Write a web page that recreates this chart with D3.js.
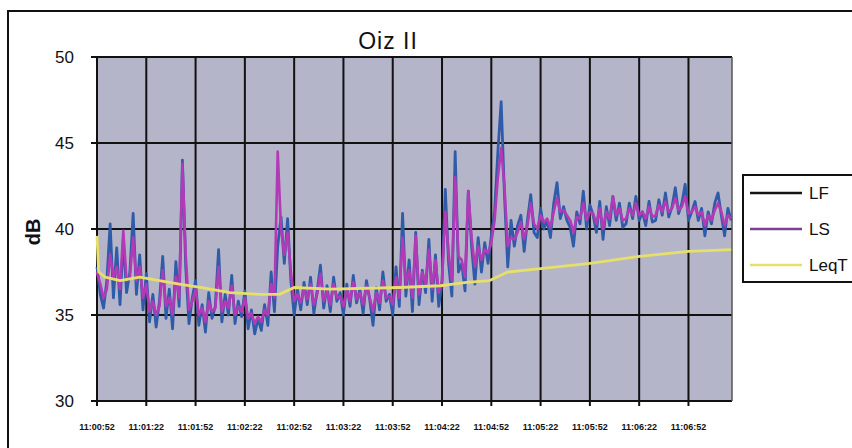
<!DOCTYPE html>
<html>
<head>
<meta charset="utf-8">
<script src="https://cdn.jsdelivr.net/npm/d3@7"></script>
<style>
  html, body { margin: 0; padding: 0; background: #fff; }
  svg { display: block; font-family: "Liberation Sans", Arial, sans-serif; }
</style>
</head>
<body>
<svg id="chart" width="852" height="448"></svg>
<script>
// Sound level record, one sample every 2 s starting at 11:00:52
const sampleStep = 2; // seconds between samples
const tickLabels = ["11:00:52", "11:01:22", "11:01:52", "11:02:22", "11:02:52", "11:03:22",
  "11:03:52", "11:04:22", "11:04:52", "11:05:22", "11:05:52", "11:06:22", "11:06:52"];
const yTicks = [30, 35, 40, 45, 50];

// LF (fast) level, dB
const LF = [
  37.8, 36.2, 35.4, 37.0, 40.3, 36.0, 38.9, 35.6, 39.4, 36.3,
  37.5, 40.9, 36.2, 38.5, 35.3, 37.4, 34.6, 36.2, 34.3, 35.8,
  38.4, 34.8, 36.5, 34.2, 38.1, 35.5, 44.0, 37.8, 34.5, 36.0,
  37.0, 34.4, 35.6, 34.0, 36.3, 34.8, 35.5, 38.8, 34.6, 36.2,
  35.0, 37.3, 34.5, 35.8, 34.9, 36.4, 34.2, 35.3, 33.9, 34.8,
  34.1, 35.6, 34.4, 37.5, 35.2, 39.0, 40.7, 38.0, 40.6, 37.0,
  35.0, 36.5, 35.3, 36.9, 35.6, 37.2, 35.1, 36.4, 37.9, 35.4,
  36.7, 35.2, 37.2, 35.8, 36.3, 35.0, 36.8, 35.5, 37.3, 35.7,
  36.5, 35.1, 37.0, 35.9, 34.4, 36.6, 35.3, 37.5, 35.8, 36.2,
  35.0, 37.8, 35.5, 40.9, 36.1, 38.2, 35.2, 39.8, 35.6, 37.6,
  36.3, 39.4, 35.8, 38.5, 35.5, 36.9, 42.3, 38.0, 36.1, 44.5,
  37.5, 38.0, 36.4, 42.2, 39.0, 36.8, 39.5, 37.5, 39.2, 38.0,
  39.6, 41.0, 44.5, 47.4, 42.0, 37.8, 40.5, 39.0, 40.2, 40.8,
  38.7, 40.5, 42.0, 39.8, 39.5, 41.2, 40.0, 40.5, 39.5, 41.5,
  42.7, 40.6, 41.3, 40.5, 40.1, 39.0, 41.0, 40.3, 42.2, 40.0,
  41.4, 40.8, 39.8, 41.6, 39.4, 41.3, 40.2, 41.9, 40.5, 41.5,
  40.1, 40.3, 41.5, 40.6, 41.9, 40.5, 41.0, 40.2, 41.6, 40.4,
  40.5, 41.7, 40.8, 42.1, 40.7, 41.3, 42.4, 40.9, 41.5, 42.6,
  40.5, 41.0, 41.6, 40.5, 41.2, 39.6, 41.0, 40.3, 41.5, 42.1,
  40.8, 39.6, 41.2, 40.5
];

// LS (slow) level, dB
const LS = [
  37.5, 36.8, 36.0, 36.5, 38.5, 37.2, 37.8, 36.5, 39.9, 37.0,
  37.2, 39.5, 37.0, 37.8, 36.0, 36.8, 35.2, 35.8, 35.0, 35.5,
  37.6, 35.5, 36.0, 35.0, 37.2, 36.0, 43.8, 38.5, 35.3, 35.8,
  36.5, 35.0, 35.4, 34.6, 35.8, 35.2, 35.4, 37.8, 35.2, 35.8,
  35.4, 36.7, 35.0, 35.5, 35.2, 36.0, 34.8, 35.1, 34.5, 34.9,
  34.6, 35.3, 35.0, 36.8, 36.0, 44.5, 40.0, 38.5, 39.8, 37.5,
  35.8, 36.2, 35.7, 36.5, 35.9, 36.8, 35.6, 36.2, 37.4, 35.8,
  36.4, 35.6, 36.8, 36.0, 36.1, 35.5, 36.5, 35.8, 36.9, 35.9,
  36.3, 35.6, 36.7, 36.0, 35.2, 36.3, 35.7, 37.0, 36.0, 36.1,
  35.6, 37.2, 36.0, 39.5, 36.8, 37.6, 36.0, 39.6, 36.2, 37.5,
  36.8, 38.8, 36.5, 38.2, 36.3, 37.0, 41.0, 38.6, 37.0, 43.0,
  38.4, 38.2, 37.2, 42.2, 39.5, 37.8, 39.0, 38.2, 38.8, 38.6,
  39.2, 40.5, 43.0, 44.7, 42.5, 39.0, 39.5, 39.4, 39.8, 40.4,
  39.4, 40.2, 41.5, 40.3, 40.0, 40.8, 40.4, 40.6, 40.1, 41.0,
  41.8, 41.0, 41.1, 40.8, 40.5, 39.8, 40.7, 40.6, 41.5, 40.5,
  41.0, 40.9, 40.3, 41.2, 40.0, 41.0, 40.6, 41.9, 40.8, 41.2,
  40.5, 40.6, 41.2, 40.8, 41.5, 40.8, 41.0, 40.6, 41.3, 40.7,
  40.8, 41.4, 41.0, 41.6, 41.0, 41.2, 41.8, 41.1, 41.3, 41.9,
  40.9, 41.0, 41.3, 40.8, 41.0, 40.2, 40.8, 40.5, 41.1, 41.5,
  41.0, 40.2, 40.8, 40.6
];

// Running Leq, dB, at the listed elapsed times (s)
const leqTimes = [0, 1, 5, 14, 26, 38, 50, 63, 81, 99, 111, 120, 142, 184, 209, 225, 239, 250, 270, 300, 329, 360, 386];
const leqValues = [39.6, 37.5, 37.2, 37.0, 37.2, 37.0, 36.8, 36.6, 36.3, 36.2, 36.2, 36.6, 36.5, 36.6, 36.7, 36.9, 37.0, 37.5, 37.7, 38.0, 38.4, 38.7, 38.8];

const colors = { LF: "#2f5ba8", LS: "#b23ab6", LeqT: "#e6df6a" };

const svg = d3.select("#chart");

// outer chart frame
svg.append("rect").attr("x", 8).attr("y", 11).attr("width", 870).attr("height", 470)
  .attr("fill", "#fff").attr("stroke", "#111").attr("stroke-width", 2);

const plot = { left: 96, top: 57, right: 732, bottom: 401 };
const tickSpacing = 30; // seconds between labelled ticks
const tEnd = (LF.length - 1) * sampleStep + 0.5;

const x = d3.scaleLinear().domain([0, tEnd]).range([97, plot.right]);
const y = d3.scaleLinear().domain([30, 50]).range([plot.bottom, plot.top]);

// plot area
svg.append("rect")
  .attr("x", plot.left).attr("y", plot.top)
  .attr("width", plot.right - plot.left).attr("height", plot.bottom - plot.top)
  .attr("fill", "#b5b5c9");

const tickTimes = tickLabels.map((_, i) => i * tickSpacing);

// grid
const g = svg.append("g");
g.selectAll("line.v").data(tickTimes).join("line")
  .attr("x1", d => x(d)).attr("x2", d => x(d))
  .attr("y1", plot.top).attr("y2", plot.bottom + 5)
  .attr("stroke", "#111").attr("stroke-width", 2);
g.selectAll("line.h").data(yTicks).join("line")
  .attr("x1", plot.left - 5).attr("x2", plot.right)
  .attr("y1", d => y(d)).attr("y2", d => y(d))
  .attr("stroke", "#111").attr("stroke-width", 2);
// right edge of plot
g.append("line").attr("x1", plot.right).attr("x2", plot.right)
  .attr("y1", plot.top).attr("y2", plot.bottom)
  .attr("stroke", "#555").attr("stroke-width", 1.5);

// series
const line = d3.line().x((d, i) => x(i * sampleStep)).y(d => y(d));
svg.append("path").datum(LF).attr("d", line)
  .attr("fill", "none").attr("stroke", colors.LF).attr("stroke-width", 2.8).attr("stroke-linejoin", "round");
svg.append("path").datum(LS).attr("d", line)
  .attr("fill", "none").attr("stroke", colors.LS).attr("stroke-width", 2.6).attr("stroke-linejoin", "round");
const leqLine = d3.line().x(d => x(d[0])).y(d => y(d[1]));
svg.append("path").datum(leqTimes.map((t, i) => [t, leqValues[i]])).attr("d", leqLine)
  .attr("fill", "none").attr("stroke", colors.LeqT).attr("stroke-width", 2.8).attr("stroke-linejoin", "round");

// y axis labels
svg.selectAll("text.ytick").data(yTicks).join("text")
  .attr("x", 74).attr("y", d => y(d)).attr("dy", "0.36em")
  .attr("text-anchor", "end").attr("font-size", 17).attr("fill", "#111")
  .text(d => d);

// x axis labels
svg.selectAll("text.xtick").data(tickLabels).join("text")
  .attr("x", (d, i) => x(tickTimes[i])).attr("y", 430)
  .attr("text-anchor", "middle").attr("font-size", 9).attr("font-weight", "bold").attr("fill", "#111")
  .text(d => d);

// axis title
svg.append("text")
  .attr("transform", "translate(40,232) rotate(-90)")
  .attr("text-anchor", "middle").attr("font-size", 20).attr("font-weight", "bold").attr("fill", "#111")
  .text("dB");

// chart title
svg.append("text")
  .attr("x", 388).attr("y", 49)
  .attr("text-anchor", "middle").attr("font-size", 23).attr("letter-spacing", 1).attr("fill", "#111")
  .text("Oiz II");

// legend
const legend = svg.append("g");
legend.append("rect").attr("x", 743).attr("y", 175).attr("width", 140).attr("height", 107)
  .attr("fill", "#fff").attr("stroke", "#111").attr("stroke-width", 2);
const legendItems = [
  { name: "LF", stroke: "#151515" },
  { name: "LS", stroke: "#7d3f8e" },
  { name: "LeqT", stroke: colors.LeqT }
];
const ly = d3.scalePoint().domain(legendItems.map(d => d.name)).range([193, 265]);
legend.selectAll("line").data(legendItems).join("line")
  .attr("x1", 750).attr("x2", 802)
  .attr("y1", d => ly(d.name)).attr("y2", d => ly(d.name))
  .attr("stroke", d => d.stroke).attr("stroke-width", 2.5);
legend.selectAll("text").data(legendItems).join("text")
  .attr("x", 809).attr("y", d => ly(d.name)).attr("dy", "0.36em")
  .attr("font-size", 17).attr("fill", "#111")
  .text(d => d.name);
</script>
</body>
</html>
